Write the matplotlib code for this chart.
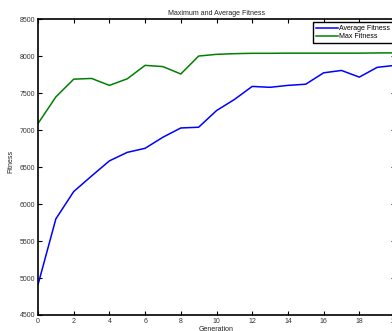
import matplotlib
matplotlib.use('Agg')
import matplotlib.pyplot as plt

plt.rcParams['font.family'] = ['Liberation Sans', 'DejaVu Sans']

generations = list(range(21))
avg_fitness = [4910, 5800, 6170, 6380, 6585, 6700, 6755, 6905, 7030, 7040,
               7265, 7415, 7592, 7580, 7606, 7622, 7776, 7808, 7718, 7850, 7877]
max_fitness = [7090, 7450, 7690, 7700, 7606, 7695, 7877, 7860, 7760, 8003,
               8026, 8035, 8040, 8040, 8042, 8042, 8042, 8042, 8042, 8045, 8046]

W, H = 392, 331
fig = plt.figure(figsize=(W / 100, H / 100), dpi=100)
ax = fig.add_axes([38 / W, (H - 315) / H, (395 - 38) / W, (315 - 19.3) / H])

ax.plot(generations, avg_fitness, color='#0000ff', lw=1.1, label='Average Fitness')
ax.plot(generations, max_fitness, color='#008000', lw=1.1, label='Max Fitness')

ax.set_xlim(0, 20)
ax.set_ylim(4500, 8500)
ax.set_xticks(range(0, 21, 2))
ax.set_yticks(range(4500, 8501, 500))
ax.tick_params(direction='in', length=3, width=0.8, labelsize=5,
               top=True, right=True, pad=2, colors='black', labelcolor='#333333')
for s in ax.spines.values():
    s.set_linewidth(1.2)

ax.set_title('Maximum and Average Fitness', fontsize=5, pad=3, color='#222222')
ax.set_xlabel('Generation', fontsize=5, labelpad=1, color='#222222')
ax.set_ylabel('Fitness', fontsize=5, color='#222222')
ax.yaxis.set_label_coords(-0.066, 0.521)

leg = ax.legend(loc='upper left', bbox_to_anchor=(313.3 / W, 1 - 22.3 / H),
                bbox_transform=fig.transFigure, fontsize=5, frameon=True,
                fancybox=False, framealpha=1, borderpad=0.4, labelspacing=0.15,
                handlelength=3.1, handletextpad=0.25, borderaxespad=0)
leg.get_frame().set_edgecolor('black')
leg.get_frame().set_linewidth(1.0)

fig.savefig('out.png', dpi=100)
